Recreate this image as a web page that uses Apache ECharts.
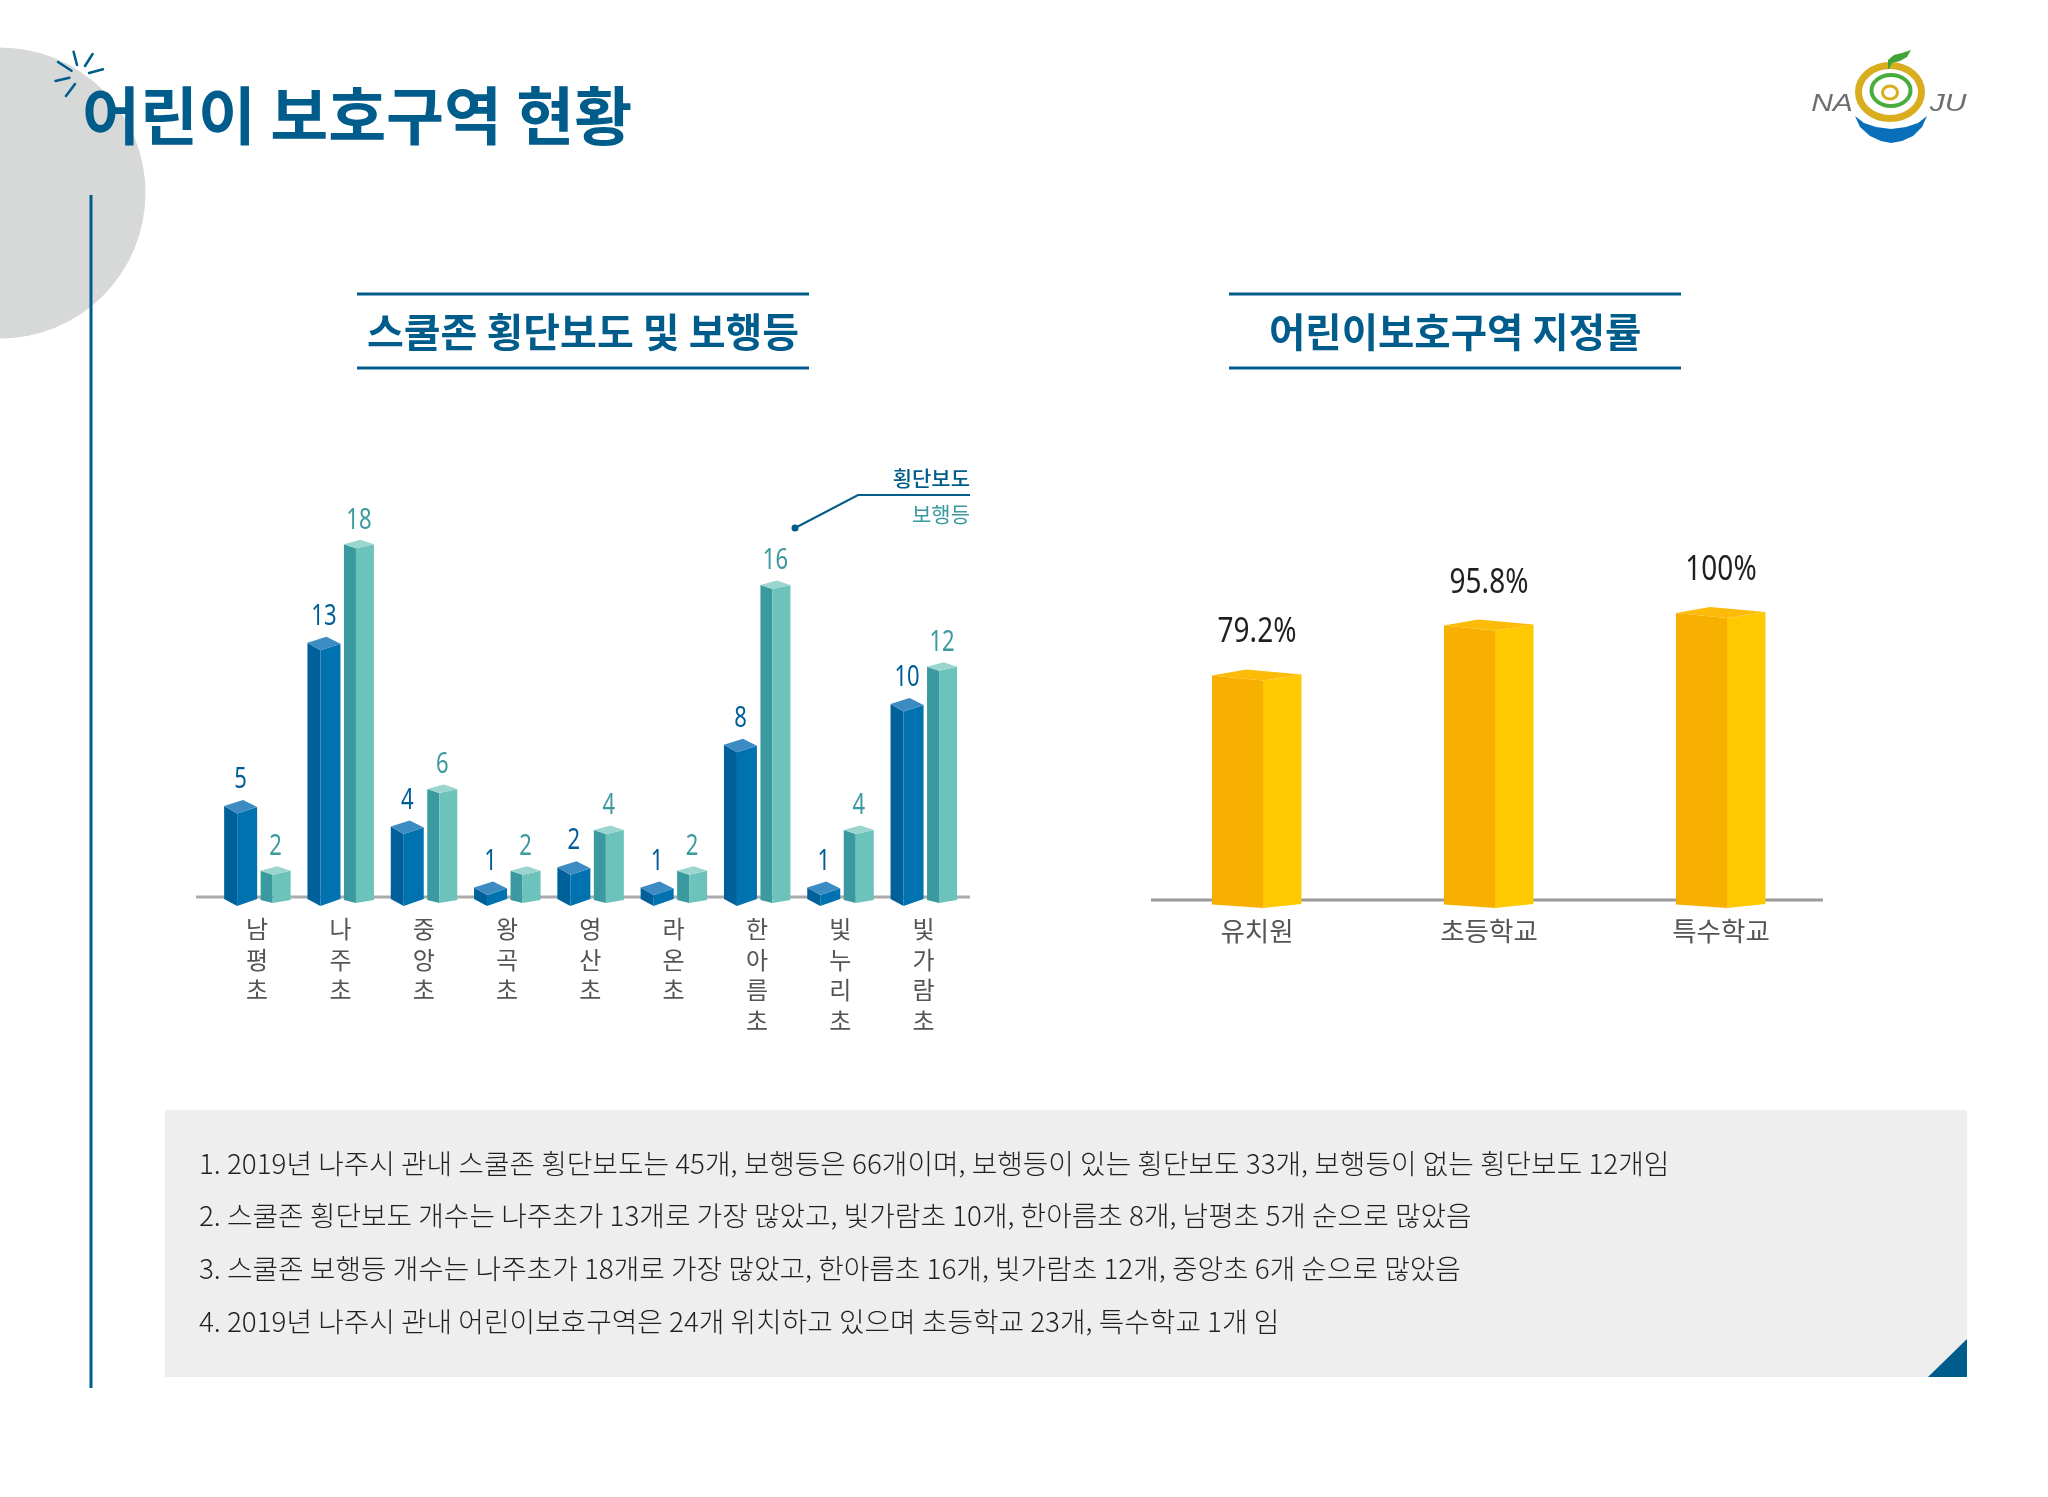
<!DOCTYPE html>
<html lang="ko">
<head>
<meta charset="utf-8">
<title>어린이 보호구역 현황</title>
<style>html,body{margin:0;padding:0;background:#fff}#chart{width:2048px;height:1497px}</style>
<script src="https://cdn.jsdelivr.net/npm/echarts@6/dist/echarts.min.js"></script>
</head>
<body>
<div id="chart"></div>
<script>
var pageTitle = '어린이 보호구역 현황';
var leftTitle = '스쿨존 횡단보도 및 보행등';
var rightTitle = '어린이보호구역 지정률';
var schools = ['남평초','나주초','중앙초','왕곡초','영산초','라온초','한아름초','빛누리초','빛가람초'];
var crosswalks = [5,13,4,1,2,1,8,1,10];
var signals = [2,18,6,2,4,2,16,4,12];
var crosswalkName = '횡단보도';
var signalName = '보행등';
var schoolTypes = ['유치원','초등학교','특수학교'];
var designation = [79.2,95.8,100];
var notes = [
 '1. 2019년 나주시 관내 스쿨존 횡단보도는 45개, 보행등은 66개이며, 보행등이 있는 횡단보도 33개, 보행등이 없는 횡단보도 12개임',
 '2. 스쿨존 횡단보도 개수는 나주초가 13개로 가장 많았고, 빛가람초 10개, 한아름초 8개, 남평초 5개 순으로 많았음',
 '3. 스쿨존 보행등 개수는 나주초가 18개로 가장 많았고, 한아름초 16개, 빛가람초 12개, 중앙초 6개 순으로 많았음',
 '4. 2019년 나주시 관내 어린이보호구역은 24개 위치하고 있으며 초등학교 23개, 특수학교 1개 임'
];

var NAVY = '#005c8a', KR = '"Noto Sans CJK KR","Noto Sans",sans-serif', NUM = '"Noto Sans",sans-serif';
var chart = echarts.init(document.getElementById('chart'), null, {renderer:'canvas'});

function poly(points, fill){ return {type:'polygon', shape:{points:points}, style:{fill:fill}}; }

function bar3d(g){
  return function(params, api){
    var c = api.coord([api.value(0), api.value(1)]);
    var zero = api.coord([api.value(0), 0])[1];
    var x = c[0] + g.dx, y = c[1];
    var l = x + g.l, m = x + g.m, r = x + g.r, a = x + g.a;
    var bf = zero + g.bf, bl = zero + g.bl, br = zero + g.br;
    var label = g.fmt ? g.fmt(api.value(1)) : String(api.value(1));
    return {type:'group', children:[
      poly([[l,y+g.cl],[m,y],[m,bf],[l,bl]], g.left),
      poly([[m,y],[r,y+g.cr],[r,br],[m,bf]], g.right),
      poly([[l,y+g.cl],[a,y+g.ca],[r,y+g.cr],[m,y]], g.cap),
      {type:'text', x:x+g.tx, y:y+g.ty, scaleX:g.sx, style:{text:label, x:0, y:0, align:'center', verticalAlign:'middle', fill:g.text, font:g.font}}
    ]};
  };
}

var blueBar = {dx:-16.5, l:-16.5, m:-3.5, r:16.5, a:2.5, cl:-7.5, ca:-13.5, cr:-6.5, bf:-9.5, bl:-16.5, br:-16.5,
  left:'#00609a', right:'#0072b0', cap:'#3c8bc2', text:'#005c96', tx:0, ty:-33.5, sx:0.76, font:'400 29px '+NUM};
var tealBar = {dx:18.5, l:-15, m:-3, r:15, a:1.5, cl:-4, ca:-8.5, cr:-4, bf:-12.5, bl:-15.5, br:-15.5,
  left:'#3a9a9f', right:'#6cc3bc', cap:'#9ad5cf', text:'#3a9a9f', tx:0, ty:-28, sx:0.76, font:'400 29px '+NUM};
var goldBar = {dx:0, l:-45, m:6, r:44.5, a:-11, cl:-5, ca:-11, cr:-6, bf:-10, bl:-13.5, br:-14,
  left:'#f8b000', right:'#fec900', cap:'#fcbb08', text:'#231f20', tx:0, ty:-48, sx:0.8, font:'400 35px '+NUM,
  fmt:function(v){return v+'%';}};

var deco = [
  {type:'circle', z:0, shape:{cx:0, cy:193, r:145.5}, style:{fill:'#d7d8d8'}},
  {type:'line', z:1, shape:{x1:91,y1:195,x2:91,y2:1388}, style:{stroke:NAVY,lineWidth:3}},
  {type:'rect', z:0, shape:{x:165,y:1110,width:1802,height:267}, style:{fill:'#eeeeee'}},
  {type:'polygon', z:1, shape:{points:[[1928,1377],[1967,1377],[1967,1339]]}, style:{fill:NAVY}},
  {type:'line', z:1, shape:{x1:357,y1:294,x2:809,y2:294}, style:{stroke:NAVY,lineWidth:3}},
  {type:'line', z:1, shape:{x1:357,y1:368,x2:809,y2:368}, style:{stroke:NAVY,lineWidth:3}},
  {type:'line', z:1, shape:{x1:1229,y1:294,x2:1681,y2:294}, style:{stroke:NAVY,lineWidth:3}},
  {type:'line', z:1, shape:{x1:1229,y1:368,x2:1681,y2:368}, style:{stroke:NAVY,lineWidth:3}},
  {type:'line', z:1, shape:{x1:196,y1:897,x2:970,y2:897}, style:{stroke:'#ababab',lineWidth:3}},
  {type:'line', z:1, shape:{x1:1151,y1:900,x2:1823,y2:900}, style:{stroke:'#9a9a9a',lineWidth:3}},
  {type:'polyline', z:3, shape:{points:[[795,528],[858,495],[970,495]]}, style:{stroke:NAVY,lineWidth:2,fill:null}},
  {type:'circle', z:3, shape:{cx:795,cy:528,r:3.5}, style:{fill:NAVY}},
  {type:'text', z:3, style:{text:crosswalkName,x:970,y:478,align:'right',verticalAlign:'middle',fill:NAVY,font:'500 21px '+KR}},
  {type:'text', z:3, style:{text:signalName,x:970,y:514,align:'right',verticalAlign:'middle',fill:'#3a9a9f',font:'21px '+KR}},
  // logo
  {type:'ellipse', z:3, shape:{cx:1890,cy:92,rx:31.5,ry:26.5}, style:{stroke:'#d9ad1d',lineWidth:7,fill:null}},
  {type:'ellipse', z:3, shape:{cx:1891,cy:90.5,rx:19.5,ry:15.5}, style:{stroke:'#4aac3c',lineWidth:4,fill:null}},
  {type:'ellipse', z:3, shape:{cx:1890,cy:92.5,rx:7.5,ry:6.5}, style:{stroke:'#d9ad1d',lineWidth:3,fill:null}},
  {type:'polygon', z:3, shape:{points:[[1888,69],[1888,60],[1894,55],[1902,53],[1911,50],[1907,57],[1900,61],[1892,63],[1889,69]]}, style:{fill:'#3fa435'}},
  {type:'polygon', z:3, shape:{points:[[1855,116],[1860,127],[1870,136],[1881,141],[1891,143],[1902,141],[1913,136],[1922,127],[1927,116],[1918,123],[1906,127],[1891,129],[1876,127],[1864,123]]}, style:{fill:'#0a6fbb'}},
  {type:'text', z:3, x:1832, y:104, scaleX:1.25, style:{text:'NA',x:0,y:0,align:'center',verticalAlign:'middle',fill:'#6d6e71',font:'italic 24px "Liberation Sans",sans-serif'}},
  {type:'text', z:3, x:1948, y:104, scaleX:1.25, style:{text:'JU',x:0,y:0,align:'center',verticalAlign:'middle',fill:'#6d6e71',font:'italic 24px "Liberation Sans",sans-serif'}}
];
// sparkle strokes
[[73.6,51.7,77,65],[92.6,54,85,66],[103,69.3,89,73],[58,62,71.5,70.7],[55.5,81,69.4,77.7],[66,96,75,84]].forEach(function(s){
  deco.push({type:'line', z:3, shape:{x1:s[0],y1:s[1],x2:s[2],y2:s[3]}, style:{stroke:NAVY,lineWidth:2.5,lineCap:'round'}});
});
var noteY = [1163,1215,1268,1321];
notes.forEach(function(t,i){
  deco.push({type:'text', z:3, style:{text:t,x:199,y:noteY[i],align:'left',verticalAlign:'middle',fill:'#231f20',font:'300 27.8px '+KR}});
});

chart.setOption({
  backgroundColor:'#ffffff',
  animation:false,
  title:[
    {text:pageTitle,left:82,top:84,padding:0,textStyle:{color:NAVY,fontFamily:KR,fontWeight:700,fontSize:63}},
    {text:leftTitle,left:367,top:312,padding:0,textStyle:{color:NAVY,fontFamily:KR,fontWeight:700,fontSize:40}},
    {text:rightTitle,left:1269,top:312,padding:0,textStyle:{color:NAVY,fontFamily:KR,fontWeight:700,fontSize:39.5}}
  ],
  grid:[
    {left:215.5,width:749.7,top:507.5,height:408},
    {left:1141,width:696,top:618,height:300}
  ],
  xAxis:[
    {gridIndex:0,type:'category',data:schools,axisLine:{show:false},axisTick:{show:false},
     axisLabel:{margin:-2,interval:0,color:'#555555',fontFamily:KR,fontSize:24,lineHeight:30.7,verticalAlign:'top',
       formatter:function(v){return v.split('').join('\n');}}},
    {gridIndex:1,type:'category',data:schoolTypes,axisLine:{show:false},axisTick:{show:false},
     axisLabel:{margin:0,interval:0,color:'#555555',fontFamily:KR,fontSize:26.5}}
  ],
  yAxis:[
    {gridIndex:0,type:'value',min:0,max:20,show:false},
    {gridIndex:1,type:'value',min:0,max:100,show:false}
  ],
  graphic:{elements:deco},
  series:[
    {type:'custom',name:crosswalkName,xAxisIndex:0,yAxisIndex:0,z:2,renderItem:bar3d(blueBar),
     data:crosswalks.map(function(v,i){return [i,v];}),encode:{x:0,y:1}},
    {type:'custom',name:signalName,xAxisIndex:0,yAxisIndex:0,z:2,renderItem:bar3d(tealBar),
     data:signals.map(function(v,i){return [i,v];}),encode:{x:0,y:1}},
    {type:'custom',name:rightTitle,xAxisIndex:1,yAxisIndex:1,z:2,renderItem:bar3d(goldBar),
     data:designation.map(function(v,i){return [i,v];}),encode:{x:0,y:1}}
  ]
});
</script>
</body>
</html>
